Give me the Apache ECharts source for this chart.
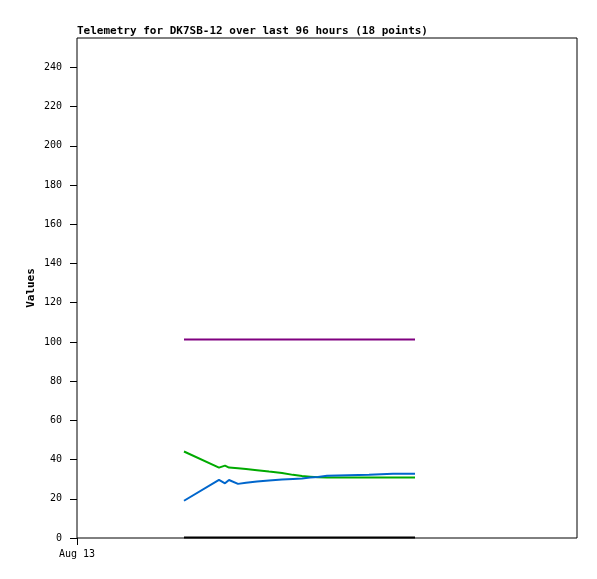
<!DOCTYPE html>
<html><head><meta charset="utf-8">
<script src="https://cdn.jsdelivr.net/npm/echarts@6/dist/echarts.min.js"></script>
<style>html,body{margin:0;padding:0;background:#fff}#c{width:597px;height:579px}</style>
</head><body><div id="c"></div>
<script>
// x in hours since Aug 13 00:00 (approximate)
const times = [21.4, 28.4, 29.6, 30.4, 32.2, 33.8, 36.0, 38.4, 41.0, 43.2, 45.0, 46.6, 48.2, 50.0, 54.2, 58.4, 63.2, 67.6];
const blueVals = [19.0, 29.6, 27.9, 29.6, 27.6, 28.2, 28.8, 29.3, 29.8, 30.1, 30.3, 30.8, 31.1, 31.7, 32.0, 32.3, 32.8, 32.8];
const greenVals = [44.1, 35.9, 36.9, 35.9, 35.6, 35.2, 34.6, 33.9, 33.2, 32.2, 31.6, 31.3, 31.0, 30.8, 30.8, 30.8, 30.8, 30.8];
const purpleVals = [101.2, 101.2, 101.2, 101.2, 101.2, 101.2, 101.2, 101.2, 101.2, 101.2, 101.2, 101.2, 101.2, 101.2, 101.2, 101.2, 101.2, 101.2];
const blackVals = [0.2, 0.2, 0.2, 0.2, 0.2, 0.2, 0.2, 0.2, 0.2, 0.2, 0.2, 0.2, 0.2, 0.2, 0.2, 0.2, 0.2, 0.2];
const yTicks = [0, 20, 40, 60, 80, 100, 120, 140, 160, 180, 200, 220, 240];
const xTickLabels = ['Aug 13'];
const titleText = 'Telemetry for DK7SB-12 over last 96 hours (18 points)';

const font = 'DejaVu Sans Mono';
function pairs(v){ return times.map((t,i)=>[t, v[i]]); }
function line(v, color){
  return {type:'line', data:pairs(v), symbol:'none', animation:false,
    lineStyle:{color:color, width:2}, z:3};
}
const chart = echarts.init(document.getElementById('c'), null, {renderer:'canvas'});
chart.setOption({
  animation:false,
  title:{text:titleText, left:77, top:26, padding:0, textStyle:{fontFamily:font, fontSize:11, fontWeight:'bold', color:'#000'}},
  grid:{left:77, right:20, top:38, bottom:41, show:true, borderColor:'#000', borderWidth:1, backgroundColor:'#fff'},
  xAxis:{type:'value', min:0, max:100,
    axisLine:{show:false}, splitLine:{show:false},
    axisTick:{show:true, length:7, lineStyle:{color:'#000'}, customValues:[0]},
    axisLabel:{fontFamily:font, fontSize:10, color:'#000', margin:11, customValues:[0],
      formatter:(v)=> v===0 ? xTickLabels[0] : ''}
  },
  yAxis:{type:'value', min:0, max:255, name:'Values', nameLocation:'middle', nameGap:40, nameMoveOverlap:false,
    nameTextStyle:{fontFamily:font, fontSize:11, fontWeight:'bold', color:'#000'},
    axisLine:{show:false}, splitLine:{show:false},
    axisTick:{show:true, length:7, lineStyle:{color:'#000'}, customValues:yTicks},
    axisLabel:{fontFamily:font, fontSize:10, color:'#000', margin:15, customValues:yTicks}
  },
  series:[
    line(purpleVals, '#800080'),
    line(greenVals, '#00aa00'),
    line(blueVals, '#0066cc'),
    line(blackVals, '#000000')
  ]
});
</script></body></html>
